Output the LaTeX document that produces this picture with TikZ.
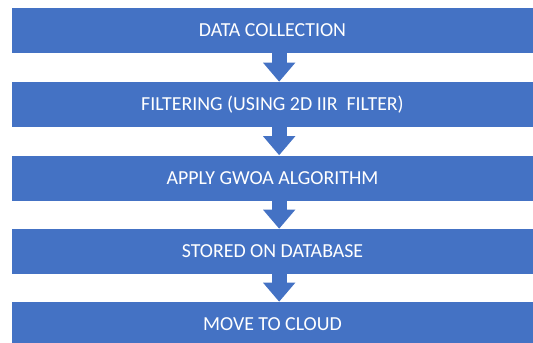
\documentclass[tikz,border=0pt]{standalone}
\usepackage{fontspec}
\setmainfont{Carlito}
\usepackage{tikz}
\usetikzlibrary{arrows.meta}
\definecolor{stepblue}{RGB}{68,114,196}

\begin{document}
\begin{tikzpicture}[x=0.75pt,y=0.75pt,yscale=-1,xscale=1,
	stepbox/.style={fill=stepblue, text=white, minimum width=390.75pt, minimum height=33.75pt, inner sep=0pt, font=\fontsize{14.9}{17}\selectfont},
	flow/.style={stepblue, line width=11.25pt, -{Triangle[length=14.25pt, width=23.25pt]}}]
	\useasboundingbox (0,0) rectangle (533,343);
	
	% Steps
	\node [stepbox] (collect) at (272.5,30.5) {DATA COLLECTION};
	\node [stepbox] (filter) at (272.5,104.5) {FILTERING (USING 2D IIR\ \ FILTER)};
	\node [stepbox] (gwoa) at (272.5,178) {APPLY GWOA ALGORITHM};
	\node [stepbox] (store) at (272.5,251.5) {STORED ON DATABASE};
	\node [stepbox] (cloud) at (272.5,324.5) {MOVE TO CLOUD};
	
	% Block arrows
	\draw [flow] ([xshift=5]collect.south) -- ([xshift=5]filter.north);
	\draw [flow] ([xshift=5]filter.south) -- ([xshift=5]gwoa.north);
	\draw [flow] ([xshift=5]gwoa.south) -- ([xshift=5]store.north);
	\draw [flow] ([xshift=5]store.south) -- ([xshift=5]cloud.north);
	
\end{tikzpicture}
\end{document}
